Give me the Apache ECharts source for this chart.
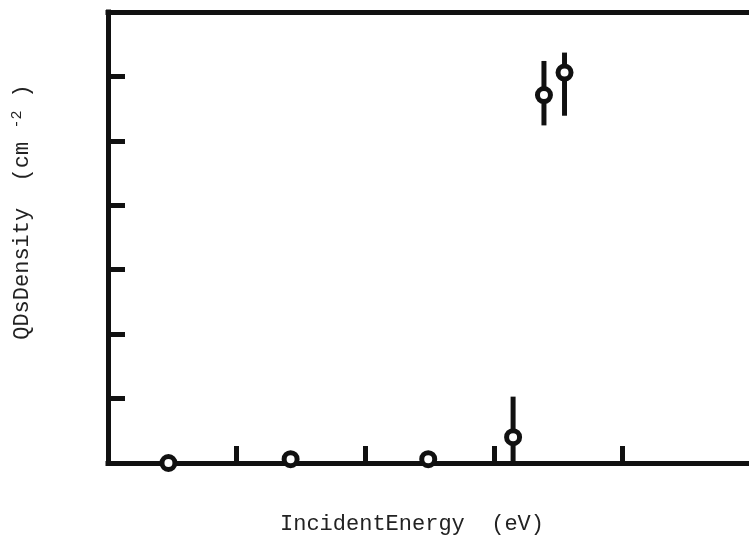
<!DOCTYPE html>
<html>
<head>
<meta charset="utf-8">
<script src="https://cdn.jsdelivr.net/npm/echarts@6/dist/echarts.min.js"></script>
<style>html,body{margin:0;padding:0;background:#fff;overflow:hidden;width:749px;height:541px;}#c{width:762px;height:541px;}</style>
</head>
<body>
<div id="c"></div>
<script>
// Data
var energy   = [0.47, 1.42, 2.49, 3.15, 3.39, 3.55];
var density  = [0.00, 0.06, 0.06, 0.40, 5.71, 6.06];
var errLow   = [null, null, null, 0.00, 5.24, 5.39];
var errHigh  = [null, null, null, 1.03, 6.24, 6.37];
var xTitle = 'IncidentEnergy  (eV)';
var yTitleMain = 'QDsDensity  (cm ';
var yTitleSup = '-2';
var yTitleEnd = ' )';

var points = energy.map(function (e, i) { return [e, density[i]]; });
var bars = [];
energy.forEach(function (e, i) {
  if (errLow[i] !== null) bars.push([e, errLow[i], errHigh[i]]);
});

var axisColor = '#111';
var lineW = 5;

var chart = echarts.init(document.getElementById('c'), null, {renderer: 'canvas'});
chart.setOption({
  backgroundColor: '#fff',
  animation: false,
  grid: {left: 108, top: 12, width: 643, height: 451, containLabel: false},
  xAxis: [{
    type: 'value', min: 0, max: 5, interval: 1, position: 'bottom',
    axisLine: {onZero: false, lineStyle: {color: axisColor, width: lineW, cap: 'square'}},
    axisTick: {inside: true, length: 17, lineStyle: {color: axisColor, width: lineW}},
    axisLabel: {show: false}, splitLine: {show: false}
  }, {
    type: 'value', min: 0, max: 5, interval: 1, position: 'top',
    axisLine: {onZero: false, lineStyle: {color: axisColor, width: lineW, cap: 'square'}},
    axisTick: {show: false}, axisLabel: {show: false}, splitLine: {show: false}
  }],
  yAxis: [{
    type: 'value', min: 0, max: 7, interval: 1, position: 'left',
    axisLine: {onZero: false, lineStyle: {color: axisColor, width: lineW, cap: 'square'}},
    axisTick: {inside: true, length: 17, lineStyle: {color: axisColor, width: lineW}},
    axisLabel: {show: false}, splitLine: {show: false}
  }, {
    type: 'value', min: 0, max: 7, interval: 1, position: 'right',
    axisLine: {onZero: false, lineStyle: {color: axisColor, width: lineW}},
    axisTick: {show: false}, axisLabel: {show: false}, splitLine: {show: false}
  }],
  series: [{
    type: 'custom',
    xAxisIndex: 0, yAxisIndex: 0,
    data: bars,
    z: 3,
    renderItem: function (params, api) {
      var x = api.value(0), lo = api.value(1), hi = api.value(2);
      var p1 = api.coord([x, lo]);
      var p2 = api.coord([x, hi]);
      return {
        type: 'line',
        shape: {x1: p1[0], y1: p1[1], x2: p2[0], y2: p2[1]},
        style: {stroke: axisColor, lineWidth: lineW}
      };
    }
  }, {
    type: 'scatter',
    xAxisIndex: 0, yAxisIndex: 0,
    data: points,
    symbol: 'circle',
    symbolSize: 13,
    z: 5,
    itemStyle: {color: '#fff', borderColor: axisColor, borderWidth: 5, opacity: 1}
  }],
  graphic: [{
    type: 'text',
    x: 412,
    y: 524,
    style: {
      text: xTitle,
      font: '22px "Liberation Mono", monospace',
      fill: '#222',
      textAlign: 'center',
      textVerticalAlign: 'middle'
    }
  }, {
    type: 'text',
    rotation: Math.PI / 2,
    x: 22,
    y: 212,
    style: {
      text: yTitleMain + '{sup|' + yTitleSup + '}' + yTitleEnd,
      font: '22px "Liberation Mono", monospace',
      fill: '#222',
      textAlign: 'center',
      textVerticalAlign: 'middle',
      rich: {
        sup: {fontSize: 15, fontFamily: 'Liberation Mono', fill: '#222', padding: [0, 0, 10, 0]}
      }
    }
  }]
});
</script>
</body>
</html>
